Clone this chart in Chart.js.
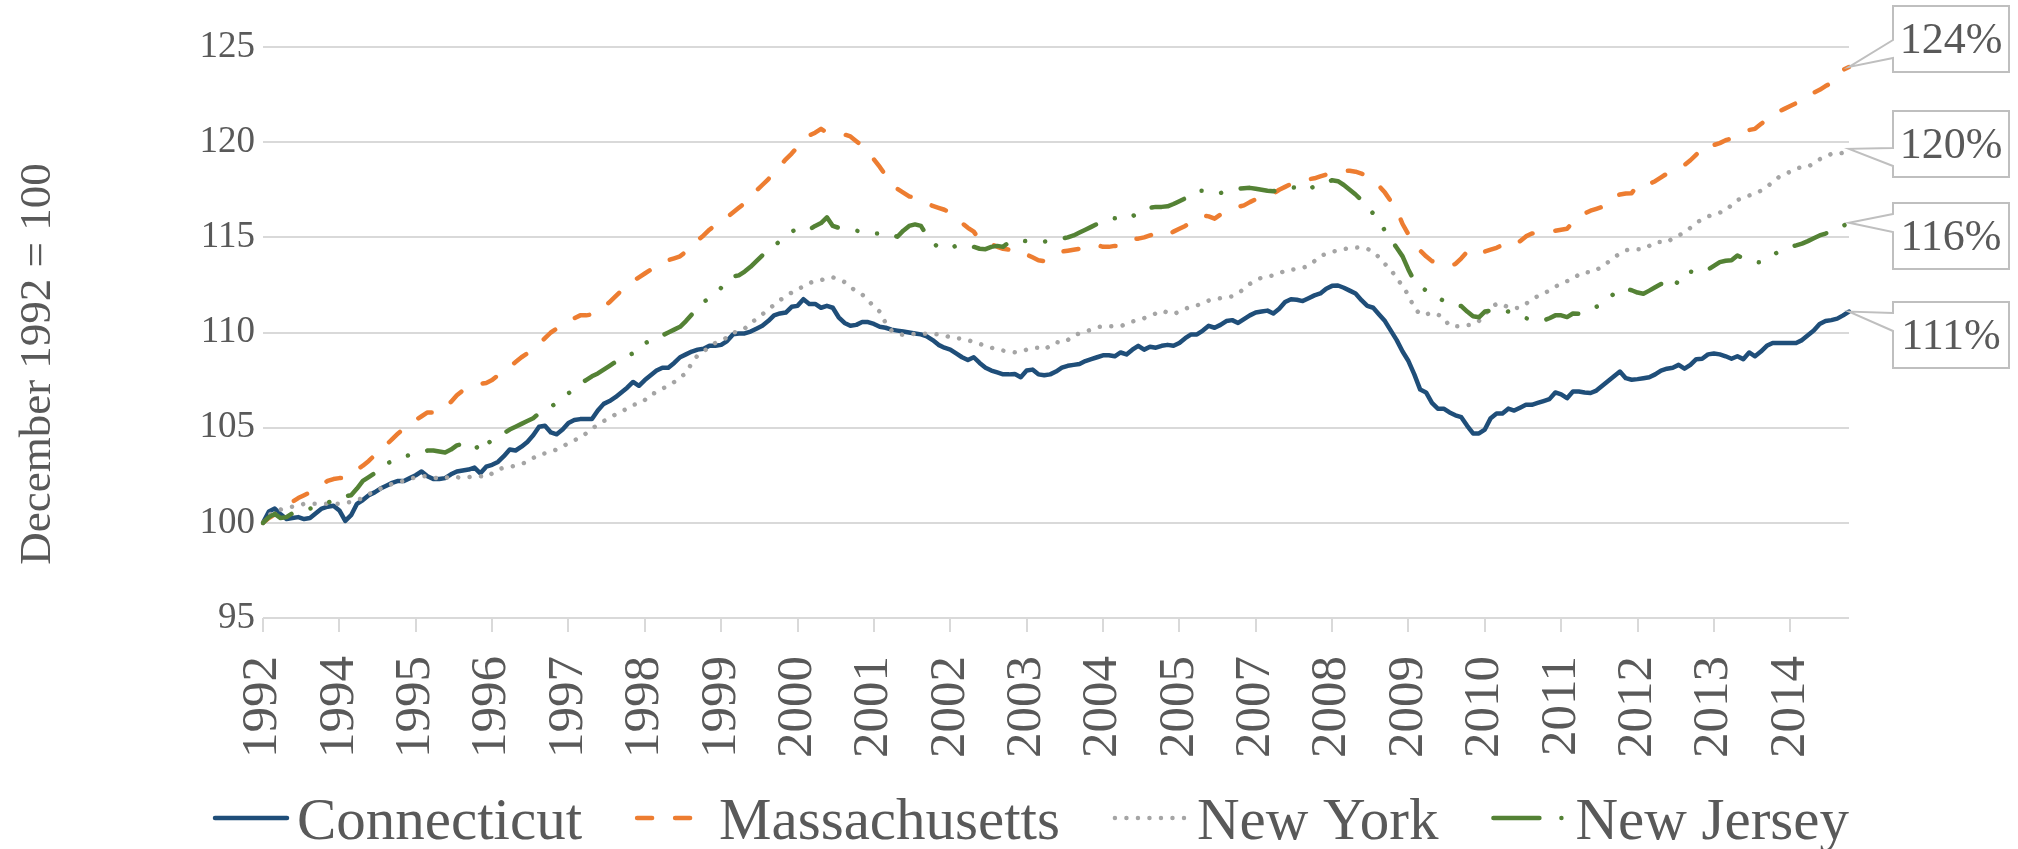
<!DOCTYPE html>
<html>
<head>
<meta charset="utf-8">
<script src="https://cdn.jsdelivr.net/npm/chart.js@4.4.1/dist/chart.umd.min.js"></script>
<style>
  html, body { margin: 0; padding: 0; background: #fff; }
  #wrap { width: 2018px; height: 849px; position: relative; }
</style>
</head>
<body>
<div id="wrap"><canvas id="chart"></canvas></div>
<script>
// Monthly index, December 1992 = 100 (Dec 1992 .. Jun 2015)
const seriesNames = ['Connecticut', 'Massachusetts', 'New York', 'New Jersey'];

const connecticut = [
  100.0,100.6,100.75,100.45,100.2,100.25,100.3,100.2,100.25,100.5,
  100.75,100.85,100.9,100.65,100.1,100.4,101.0,101.2,101.45,101.6,
  101.8,101.95,102.1,102.2,102.2,102.35,102.5,102.7,102.45,102.3,
  102.3,102.35,102.55,102.7,102.75,102.8,102.9,102.6,102.95,103.05,
  103.2,103.5,103.85,103.8,104.0,104.25,104.6,105.05,105.1,104.75,
  104.65,104.9,105.25,105.4,105.45,105.45,105.45,105.9,106.25,106.4,
  106.6,106.85,107.1,107.4,107.2,107.5,107.75,108.0,108.15,108.15,
  108.4,108.7,108.85,109.0,109.1,109.15,109.3,109.3,109.35,109.55,
  109.9,109.95,109.95,110.05,110.2,110.35,110.6,110.9,111.0,111.05,
  111.35,111.4,111.75,111.5,111.5,111.3,111.4,111.3,110.8,110.5,
  110.35,110.4,110.55,110.55,110.45,110.3,110.25,110.15,110.1,110.05,
  110.0,109.95,109.9,109.8,109.6,109.35,109.2,109.1,108.9,108.7,
  108.55,108.7,108.4,108.15,108.0,107.9,107.8,107.8,107.82,107.65,
  108.0,108.05,107.8,107.75,107.8,107.95,108.15,108.25,108.3,108.35,
  108.5,108.6,108.7,108.8,108.8,108.75,108.95,108.85,109.1,109.3,
  109.1,109.25,109.2,109.3,109.35,109.3,109.45,109.7,109.9,109.9,
  110.1,110.35,110.25,110.4,110.6,110.65,110.5,110.7,110.9,111.05,
  111.1,111.15,111.0,111.25,111.6,111.75,111.72,111.65,111.8,111.95,
  112.05,112.3,112.45,112.47,112.35,112.2,112.05,111.7,111.4,111.3,
  110.95,110.6,110.1,109.6,109.0,108.5,107.8,107.0,106.85,106.3,
  106.0,106.0,105.8,105.65,105.55,105.1,104.7,104.7,104.9,105.5,
  105.75,105.75,106.0,105.9,106.05,106.2,106.2,106.3,106.4,106.5,
  106.85,106.75,106.55,106.9,106.9,106.85,106.82,106.95,107.2,107.45,
  107.7,107.95,107.6,107.52,107.55,107.6,107.65,107.8,108.0,108.1,
  108.15,108.3,108.1,108.3,108.6,108.62,108.85,108.9,108.85,108.75,
  108.62,108.75,108.6,108.95,108.75,109.0,109.3,109.45,109.45,109.45,
  109.45,109.45,109.6,109.85,110.1,110.45,110.6,110.65,110.73,110.9,
  111.1
];

const massachusetts = [
  100.0,100.25,100.45,100.6,100.85,101.1,101.3,101.45,101.6,101.8,
  102.0,102.2,102.3,102.35,102.35,102.55,102.8,103.0,103.25,103.55,
  103.8,104.1,104.4,104.7,104.95,105.2,105.4,105.6,105.8,105.8,
  105.8,106.05,106.35,106.7,106.95,107.1,107.2,107.3,107.35,107.5,
  107.75,108.0,108.2,108.45,108.7,108.9,109.15,109.4,109.7,110.0,
  110.2,110.4,110.6,110.75,110.9,110.9,110.95,111.05,111.3,111.6,
  111.9,112.2,112.5,112.7,112.9,113.1,113.3,113.5,113.7,113.8,
  113.9,114.0,114.25,114.55,114.85,115.1,115.4,115.65,115.85,116.05,
  116.3,116.55,116.8,117.15,117.45,117.75,118.05,118.4,118.75,119.1,
  119.4,119.75,120.1,120.35,120.5,120.7,120.5,120.45,120.45,120.4,
  120.3,120.05,119.8,119.45,119.1,118.7,118.25,117.85,117.55,117.35,
  117.15,117.1,116.95,116.8,116.65,116.55,116.45,116.3,116.05,115.75,
  115.5,115.3,114.85,114.7,114.65,114.5,114.4,114.35,114.3,114.35,
  114.1,113.95,113.8,113.75,113.9,114.1,114.25,114.3,114.35,114.4,
  114.45,114.55,114.6,114.5,114.5,114.55,114.55,114.8,114.9,114.93,
  115.0,115.1,115.2,115.15,115.1,115.3,115.45,115.6,115.8,115.95,
  116.15,116.1,115.98,116.2,116.4,116.5,116.6,116.68,116.85,117.0,
  117.1,117.2,117.3,117.5,117.65,117.8,117.9,118.0,118.05,118.1,
  118.2,118.3,118.4,118.45,118.5,118.5,118.45,118.35,118.2,118.0,
  117.7,117.35,116.9,116.45,115.7,115.15,114.7,114.3,114.0,113.75,
  113.65,113.6,113.5,113.6,113.9,114.25,114.1,114.05,114.25,114.35,
  114.45,114.6,114.65,114.55,114.8,115.05,115.2,115.25,115.3,115.3,
  115.35,115.4,115.45,115.8,116.15,116.25,116.4,116.5,116.6,116.85,
  117.15,117.25,117.3,117.32,117.75,117.7,117.8,117.95,118.15,118.35,
  118.5,118.65,118.8,119.05,119.35,119.6,119.95,119.85,119.95,120.1,
  120.2,120.35,120.5,120.64,120.7,120.95,121.2,121.4,121.6,121.75,
  121.9,122.05,122.2,122.35,122.6,122.75,122.95,123.1,123.4,123.8,
  123.95
];

const newYork = [
  100.0,100.4,100.6,100.7,100.8,100.85,100.9,101.0,101.0,101.0,
  101.0,101.0,101.0,101.0,101.05,101.1,101.2,101.3,101.5,101.65,
  101.8,101.9,102.05,102.15,102.2,102.3,102.4,102.45,102.45,102.4,
  102.3,102.35,102.45,102.4,102.35,102.4,102.45,102.45,102.4,102.6,
  102.8,102.9,102.95,103.0,103.1,103.2,103.4,103.6,103.65,103.75,
  103.85,104.0,104.2,104.35,104.45,104.7,104.95,105.15,105.35,105.5,
  105.7,105.85,106.0,106.2,106.25,106.45,106.75,106.85,107.05,107.2,
  107.4,107.65,107.85,108.4,108.8,109.0,109.25,109.45,109.55,109.75,
  110.0,110.05,110.2,110.5,110.7,110.95,111.2,111.45,111.7,111.9,
  112.1,112.3,112.4,112.6,112.7,112.75,112.85,112.9,112.8,112.65,
  112.4,112.15,112.0,111.7,111.35,111.1,110.5,110.1,109.95,109.87,
  109.9,109.93,109.93,109.93,109.92,109.9,109.85,109.75,109.7,109.68,
  109.6,109.5,109.4,109.3,109.2,109.12,109.05,109.0,108.96,109.0,
  109.1,109.2,109.2,109.1,109.3,109.5,109.45,109.6,109.85,109.95,
  110.05,110.15,110.28,110.32,110.33,110.33,110.33,110.45,110.58,110.63,
  110.75,110.88,111.0,111.15,111.05,110.96,111.1,111.25,111.35,111.42,
  111.55,111.68,111.75,111.8,111.85,111.9,112.05,112.3,112.55,112.75,
  112.88,112.95,113.0,113.1,113.25,113.3,113.33,113.4,113.5,113.75,
  114.0,114.15,114.25,114.3,114.38,114.44,114.46,114.47,114.4,114.23,
  113.95,113.6,113.3,112.85,112.45,111.95,111.3,110.95,110.95,111.04,
  110.95,110.75,110.35,110.33,110.33,110.38,110.42,110.6,110.95,111.3,
  111.5,111.5,111.3,111.28,111.3,111.5,111.75,111.9,112.05,112.2,
  112.4,112.58,112.7,112.8,113.05,113.18,113.15,113.3,113.45,113.7,
  113.94,114.15,114.32,114.37,114.38,114.38,114.55,114.75,114.75,114.73,
  114.95,115.1,115.25,115.5,115.75,115.95,116.1,116.2,116.3,116.39,
  116.7,116.95,117.1,117.2,117.27,117.45,117.65,117.9,118.15,118.3,
  118.45,118.62,118.68,118.7,118.9,119.1,119.25,119.38,119.36,119.45,
  119.65
];

const newJersey = [
  100.0,100.3,100.47,100.25,100.3,100.5,100.65,100.7,100.75,100.8,
  100.9,101.05,101.2,101.35,101.4,101.45,101.8,102.2,102.4,102.6,
  102.9,103.1,103.25,103.4,103.5,103.55,103.6,103.7,103.8,103.8,
  103.75,103.7,103.85,104.07,104.15,104.2,104.15,103.7,104.1,104.35,
  104.55,104.7,104.9,105.05,105.2,105.35,105.5,105.75,105.95,106.1,
  106.3,106.55,106.8,107.05,107.3,107.5,107.7,107.85,108.05,108.25,
  108.45,108.6,108.8,108.9,109.0,109.45,109.55,109.6,109.85,110.0,
  110.15,110.3,110.6,110.95,111.35,111.6,111.8,112.0,112.35,112.8,
  112.95,113.0,113.2,113.45,113.75,114.05,114.3,114.55,114.8,115.0,
  115.3,115.45,115.5,115.4,115.6,115.75,116.05,115.6,115.5,115.45,
  115.4,115.35,115.3,115.2,115.2,115.2,115.25,115.15,115.03,115.35,
  115.6,115.68,115.6,115.1,114.75,114.45,114.4,114.45,114.55,114.62,
  114.6,114.5,114.4,114.38,114.5,114.55,114.5,114.75,114.85,114.82,
  114.8,114.78,114.78,114.78,114.82,114.88,114.93,115.0,115.1,115.25,
  115.4,115.55,115.7,115.85,115.95,116.0,116.02,115.95,116.1,116.3,
  116.5,116.55,116.6,116.6,116.63,116.75,116.9,117.05,117.25,117.45,
  117.45,117.33,117.33,117.33,117.42,117.5,117.55,117.58,117.6,117.55,
  117.5,117.45,117.42,117.5,117.58,117.63,117.6,117.45,117.5,117.7,
  117.75,117.9,118.0,117.95,117.75,117.5,117.25,116.95,116.6,116.25,
  115.85,115.35,114.9,114.45,114.0,113.3,112.7,112.45,112.2,112.05,
  111.85,111.65,111.5,111.42,111.39,111.1,110.85,110.8,111.1,111.15,
  111.18,111.2,111.1,110.95,110.82,110.75,110.7,110.65,110.63,110.75,
  110.9,110.9,110.81,111.0,110.98,111.05,111.2,111.35,111.48,111.75,
  112.05,112.3,112.3,112.22,112.1,112.04,112.2,112.38,112.55,112.45,
  112.3,112.75,113.2,113.2,113.15,113.14,113.3,113.5,113.7,113.77,
  113.8,114.05,113.9,113.85,113.7,113.68,113.85,114.05,114.25,114.4,
  114.5,114.58,114.67,114.8,114.95,115.1,115.2,115.33,115.45,115.6,
  115.77
];

// category axis: one entry per month starting December 1992, a year label every 13 months
const tickLabels = ['1992','1994','1995','1996','1997','1998','1999','2000','2001','2002',
  '2003','2004','2005','2007','2008','2009','2010','2011','2012','2013','2014'];
const tickStep = 13;
const months = [];
for (let i = 0; i < connecticut.length; i++) {
  const m = 11 + i;
  months.push((1992 + Math.floor(m / 12)) + '-' + String(m % 12 + 1).padStart(2, '0'));
}

const yTitle = 'December 1992 = 100';

const FONT = '"Liberation Serif", "Times New Roman", serif';
const TEXT = '#595959';
const GRID = '#D9D9D9';

// end-of-line callouts: which dataset, box top, where the pointer meets the box
const callouts = [
  { ds: 1, top: 6, wedge: 34 },
  { ds: 2, top: 111, wedge: 37 },
  { ds: 3, top: 203, wedge: 11 },
  { ds: 0, top: 302, wedge: 11 }
];

const calloutPlugin = {
  id: 'callouts',
  afterDatasetsDraw(chart) {
    const ctx = chart.ctx;
    const bx = 1893, bw = 116, bh = 66, wh = 18;
    ctx.save();
    callouts.forEach(function (c) {
      const data = chart.data.datasets[c.ds].data;
      const meta = chart.getDatasetMeta(c.ds);
      const pt = meta.data[meta.data.length - 1];
      const by = c.top;
      ctx.beginPath();
      ctx.moveTo(bx, by + c.wedge);
      ctx.lineTo(pt.x, pt.y);
      ctx.lineTo(bx, by + c.wedge + wh);
      ctx.lineTo(bx, by + bh);
      ctx.lineTo(bx + bw, by + bh);
      ctx.lineTo(bx + bw, by);
      ctx.lineTo(bx, by);
      ctx.closePath();
      ctx.fillStyle = '#fff';
      ctx.fill();
      ctx.lineWidth = 2;
      ctx.strokeStyle = '#BFBFBF';
      ctx.setLineDash([]);
      ctx.stroke();
      ctx.fillStyle = TEXT;
      ctx.font = '44px ' + FONT;
      ctx.textAlign = 'center';
      ctx.textBaseline = 'middle';
      ctx.fillText(Math.round(data[data.length - 1]) + '%', bx + bw / 2, by + bh / 2 + 2);
    });
    ctx.restore();
  }
};

// legend and axis title drawn by hand so they sit where the original puts them
const legendPlugin = {
  id: 'bottomLegend',
  afterDraw(chart) {
    const ctx = chart.ctx;
    const sample = 76, gap = 8, spacing = 53, baseY = 839, lineY = 818;
    ctx.save();

    ctx.translate(38, 364);
    ctx.rotate(-Math.PI / 2);
    ctx.font = '45px ' + FONT;
    ctx.fillStyle = TEXT;
    ctx.textAlign = 'center';
    ctx.textBaseline = 'middle';
    ctx.fillText(yTitle, 0, 0);
    ctx.setTransform(1, 0, 0, 1, 0, 0);

    ctx.font = '59px ' + FONT;
    const sets = chart.data.datasets;
    let total = 0;
    sets.forEach(function (d, i) {
      total += sample + gap + ctx.measureText(d.label).width + (i ? spacing : 0);
    });
    let x = 1031 - total / 2;
    sets.forEach(function (d) {
      ctx.beginPath();
      ctx.strokeStyle = d.borderColor;
      ctx.lineWidth = d.borderWidth;
      ctx.lineCap = d.borderCapStyle || 'butt';
      ctx.setLineDash(d.legendDash || d.borderDash || []);
      ctx.moveTo(x + 2, lineY);
      ctx.lineTo(x + sample - 2, lineY);
      ctx.stroke();
      ctx.setLineDash([]);
      ctx.fillStyle = TEXT;
      ctx.textAlign = 'left';
      ctx.textBaseline = 'alphabetic';
      ctx.fillText(d.label, x + sample + gap, baseY);
      x += sample + gap + ctx.measureText(d.label).width + spacing;
    });
    ctx.restore();
  }
};

new Chart('chart', {
  type: 'line',
  data: {
    labels: months,
    datasets: [
      { label: seriesNames[0], data: connecticut, borderColor: '#1F4E79', borderWidth: 4.5,
        borderCapStyle: 'round', borderJoinStyle: 'round', order: 3 },
      { label: seriesNames[1], data: massachusetts, borderColor: '#ED7D31', borderWidth: 4.5,
        borderDash: [15, 23], borderCapStyle: 'round', borderJoinStyle: 'round', order: 2 },
      { label: seriesNames[2], data: newYork, borderColor: '#A5A5A5', borderWidth: 4.5,
        borderDash: [0.01, 11.5], borderCapStyle: 'round', borderJoinStyle: 'round', order: 1 },
      { label: seriesNames[3], data: newJersey, borderColor: '#548235', borderWidth: 4.5,
        borderDash: [34, 20, 0.01, 20, 0.01, 20], legendDash: [46, 22, 0.01, 40],
        borderCapStyle: 'round', borderJoinStyle: 'round', order: 0 }
    ]
  },
  options: {
    responsive: true,
    maintainAspectRatio: false,
    animation: false,
    devicePixelRatio: 1,
    layout: { padding: { top: 47, right: 169, bottom: 0, left: 0 } },
    elements: { point: { radius: 0 }, line: { tension: 0, fill: false } },
    plugins: { legend: { display: false }, tooltip: { enabled: false } },
    scales: {
      x: {
        grid: { drawOnChartArea: false, color: GRID, lineWidth: 2, tickLength: 14 },
        border: { display: false },
        ticks: {
          autoSkip: false, minRotation: 90, maxRotation: 90, padding: 24,
          color: TEXT, font: { family: FONT, size: 51 },
          callback: function (value, index) {
            return index % tickStep === 0 ? tickLabels[index / tickStep] : null;
          }
        },
        afterFit: function (s) { s.height = 231; }
      },
      y: {
        min: 95, max: 125,
        ticks: { stepSize: 5, padding: 8, color: TEXT, font: { family: FONT, size: 37 } },
        grid: { color: GRID, lineWidth: 2, drawTicks: false },
        border: { display: false },
        afterFit: function (s) { s.width = 263; }
      }
    }
  },
  plugins: [calloutPlugin, legendPlugin]
});
</script>
</body>
</html>
